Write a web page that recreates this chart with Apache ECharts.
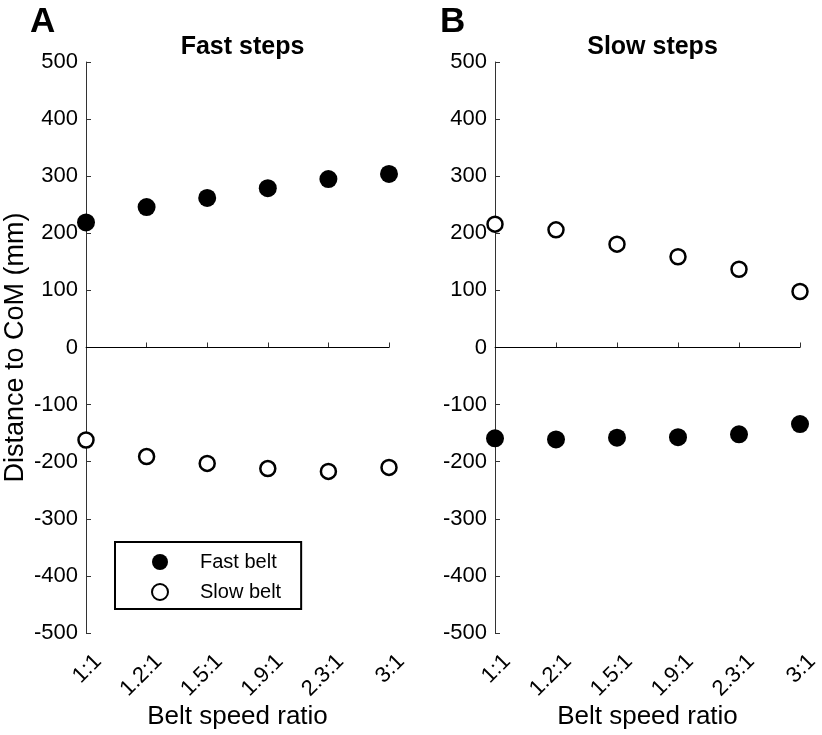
<!DOCTYPE html>
<html>
<head>
<meta charset="utf-8">
<script src="https://cdn.jsdelivr.net/npm/echarts@6/dist/echarts.min.js"></script>
<style>
html,body{margin:0;padding:0;background:#fff;}
#chart{width:822px;height:735px;}
</style>
</head>
<body>
<div id="chart"></div>
<script>
var categories = ['1:1', '1.2:1', '1.5:1', '1.9:1', '2.3:1', '3:1'];
var fastStepsFastBelt = [219, 246, 262, 279, 295, 304];
var fastStepsSlowBelt = [-162, -191, -203, -212, -217, -210];
var slowStepsSlowBelt = [216, 206, 181, 159, 137, 98];
var slowStepsFastBelt = [-159, -161, -158, -157, -152, -134];
var yTicks = [-500, -400, -300, -200, -100, 0, 100, 200, 300, 400, 500];

var FONT = '"Liberation Sans", Arial, sans-serif';
var axisColor = '#333';

function xAxis(idx) {
  return {
    type: 'category', gridIndex: idx, data: categories, boundaryGap: false,
    axisLine: {show: true, lineStyle: {color: axisColor, width: 1}},
    axisTick: {show: true, inside: true, length: 5, alignWithLabel: true, lineStyle: {color: axisColor}},
    axisLabel: {rotate: 45, fontSize: 22, color: '#000', fontFamily: FONT, margin: 13, interval: 0,
                align: 'right', verticalAlign: 'top', padding: [6, 0, 0, 0]},
    splitLine: {show: false},
    name: 'Belt speed ratio', nameLocation: 'middle', nameGap: 71, nameMoveOverlap: false,
    nameTextStyle: {fontSize: 26, color: '#000', fontFamily: FONT}
  };
}
function yAxis(idx, withName) {
  var a = {
    type: 'value', gridIndex: idx, min: yTicks[0], max: yTicks[yTicks.length - 1], interval: 100,
    axisLine: {show: true, lineStyle: {color: axisColor, width: 1}},
    axisTick: {show: true, inside: true, length: 5, lineStyle: {color: axisColor}},
    axisLabel: {fontSize: 22, color: '#000', fontFamily: FONT, margin: 8},
    splitLine: {show: false}
  };
  if (withName) {
    a.name = 'Distance to CoM (mm)';
    a.nameLocation = 'middle';
    a.nameGap = 57;
    a.nameMoveOverlap = false;
    a.nameTextStyle = {fontSize: 27, color: '#000', fontFamily: FONT};
  }
  return a;
}
var zeroLine = {
  silent: true, symbol: 'none',
  lineStyle: {color: '#000', width: 1, type: 'solid'},
  label: {show: false},
  emphasis: {disabled: true},
  data: [{yAxis: 0}]
};
var filledStyle = {color: '#000', opacity: 1};
var openStyle = {color: '#fff', borderColor: '#000', borderWidth: 2.5, opacity: 1};

var option = {
  animation: false,
  backgroundColor: '#fff',
  title: [
    {text: 'A', left: 25, top: 0, textStyle: {fontSize: 35, fontWeight: 'bold', color: '#000', fontFamily: FONT}},
    {text: 'B', left: 435, top: 0, textStyle: {fontSize: 35, fontWeight: 'bold', color: '#000', fontFamily: FONT}},
    {text: 'Fast steps', left: 237.5, textAlign: 'center', top: 30, textStyle: {fontSize: 25, fontWeight: 'bold', color: '#000', fontFamily: FONT}},
    {text: 'Slow steps', left: 647.5, textAlign: 'center', top: 30, textStyle: {fontSize: 25, fontWeight: 'bold', color: '#000', fontFamily: FONT}}
  ],
  legend: {
    data: [{name: 'Fast belt'}, {name: 'Slow belt'}],
    orient: 'vertical', left: 115, top: 542,
    padding: [10, 20, 7, 36],
    itemWidth: 16, itemHeight: 16, itemGap: 10,
    borderColor: '#000', borderWidth: 2,
    textStyle: {fontSize: 20, color: '#000', fontFamily: FONT, padding: [0, 0, 0, 27]},
    selectedMode: false
  },
  grid: [
    {left: 86, top: 62, width: 303, height: 571, containLabel: false, outerBoundsMode: 'none'},
    {left: 495, top: 62, width: 305, height: 571, containLabel: false, outerBoundsMode: 'none'}
  ],
  xAxis: [xAxis(0), xAxis(1)],
  yAxis: [yAxis(0, true), yAxis(1, false)],
  series: [
    {name: 'Fast belt', type: 'scatter', xAxisIndex: 0, yAxisIndex: 0, data: fastStepsFastBelt,
     symbol: 'circle', symbolSize: 18, itemStyle: filledStyle, markLine: zeroLine, z: 3},
    {name: 'Slow belt', type: 'scatter', xAxisIndex: 0, yAxisIndex: 0, data: fastStepsSlowBelt,
     symbol: 'circle', symbolSize: 15, itemStyle: openStyle, z: 3},
    {name: 'Slow belt', type: 'scatter', xAxisIndex: 1, yAxisIndex: 1, data: slowStepsSlowBelt,
     symbol: 'circle', symbolSize: 15, itemStyle: openStyle, markLine: zeroLine, z: 3},
    {name: 'Fast belt', type: 'scatter', xAxisIndex: 1, yAxisIndex: 1, data: slowStepsFastBelt,
     symbol: 'circle', symbolSize: 18, itemStyle: filledStyle, z: 3}
  ]
};
var chart = echarts.init(document.getElementById('chart'), null, {renderer: 'canvas'});
chart.setOption(option);
</script>
</body>
</html>
